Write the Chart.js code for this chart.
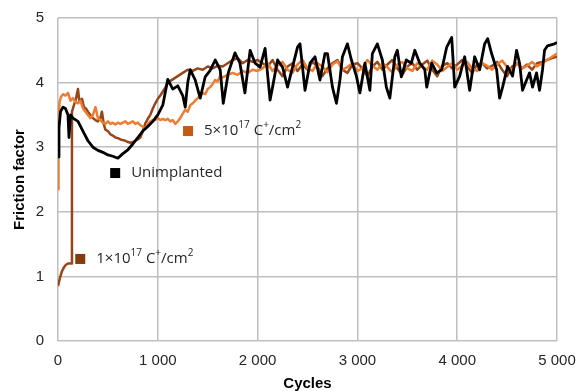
<!DOCTYPE html>
<html>
<head>
<meta charset="utf-8">
<script src="https://cdn.jsdelivr.net/npm/chart.js@4"></script>
<style>
  html, body { margin: 0; padding: 0; background: #fff; }
  #wrap { width: 579px; height: 391px; }
</style>
</head>
<body>
<div id="wrap"><canvas id="chart" width="579" height="391"></canvas></div>
<script>
// Unimplanted (black)
const blackCycles = [0, 10, 25, 50, 75, 100, 110, 125, 150, 200, 250, 300, 350, 400, 450, 500, 550, 600, 650, 700,
  750, 800, 850, 900, 950, 1000, 1050, 1100, 1150, 1200, 1250, 1275, 1300, 1325, 1375, 1425, 1475, 1525, 1575, 1625,
  1656, 1706, 1773, 1823, 1873, 1925, 1975, 2025, 2075, 2125, 2150, 2200, 2250, 2300, 2350, 2400, 2425, 2475, 2525, 2575,
  2625, 2675, 2700, 2750, 2790, 2825, 2850, 2900, 2940, 2990, 3025, 3075, 3125, 3150, 3200, 3250, 3290, 3325, 3375, 3400,
  3440, 3490, 3540, 3575, 3625, 3675, 3695, 3745, 3795, 3845, 3895, 3945, 3975, 4025, 4075, 4125, 4175, 4225, 4275, 4305,
  4345, 4395, 4425, 4455, 4505, 4555, 4595, 4625, 4655, 4695, 4725, 4755, 4795, 4825, 4855, 4875, 4905, 4975, 5000];
const blackValues = [2.85, 3.3, 3.55, 3.62, 3.6, 3.5, 3.15, 3.5, 3.45, 3.4, 3.25, 3.1, 3.0, 2.95, 2.92, 2.88, 2.86, 2.83, 2.9, 2.96,
  3.05, 3.15, 3.25, 3.32, 3.4, 3.5, 3.65, 4.05, 3.9, 3.95, 3.8, 3.62, 4.0, 4.2, 4.04, 3.76, 4.09, 4.19, 4.35, 4.2,
  3.68, 4.15, 4.46, 4.3, 3.84, 4.5, 4.3, 4.24, 4.53, 3.73, 3.93, 4.35, 4.24, 3.93, 4.24, 4.55, 4.6, 3.88, 4.3, 4.4,
  4.04, 4.45, 4.45, 3.93, 3.68, 4.04, 4.4, 4.6, 4.35, 4.1, 3.84, 4.3, 3.88, 4.45, 4.6, 4.35, 3.93, 3.76, 4.4, 4.5,
  4.09, 4.35, 4.3, 4.5, 4.3, 4.2, 3.93, 4.3, 4.15, 4.2, 4.55, 4.7, 3.93, 4.1, 4.4, 3.88, 4.4, 4.2, 4.6, 4.68,
  4.45, 4.2, 3.76, 3.93, 4.25, 4.1, 4.5, 4.3, 3.88, 4.04, 4.15, 3.93, 4.15, 3.88, 4.2, 4.5, 4.57, 4.6, 4.62];

// 5x10^17 C+/cm2 (orange)
const orangeCycles = [0, 5, 15, 30, 50, 75, 100, 125, 150, 175, 200, 225, 250, 275, 300, 325, 350, 375, 400, 425,
  450, 475, 500, 525, 550, 575, 600, 625, 650, 675, 700, 725, 750, 775, 800, 825, 850, 875, 900, 925,
  950, 975, 1000, 1025, 1050, 1075, 1100, 1125, 1150, 1175, 1200, 1225, 1250, 1275, 1300, 1325, 1350, 1375, 1400, 1425,
  1450, 1475, 1500, 1525, 1550, 1575, 1600, 1625, 1650, 1700, 1750, 1800, 1850, 1900, 1950, 2000,
  2050, 2100, 2150, 2200, 2250, 2300, 2350, 2400, 2450, 2500, 2550, 2600, 2650, 2700, 2750, 2800, 2850, 2900, 2950, 3000,
  3050, 3100, 3150, 3200, 3250, 3300, 3350, 3400, 3450, 3500, 3550, 3600, 3650, 3700, 3750, 3800, 3850, 3900, 3950, 4000,
  4050, 4100, 4150, 4200, 4250, 4300, 4350, 4400, 4450, 4500, 4550, 4600, 4650, 4700, 4750, 4800, 4850, 4900, 4950, 5000];
const orangeValues = [2.35, 3.2, 3.7, 3.78, 3.82, 3.8, 3.84, 3.72, 3.76, 3.7, 3.68, 3.72, 3.6, 3.55, 3.5, 3.45, 3.5, 3.62, 3.45, 3.42,
  3.38, 3.36, 3.4, 3.36, 3.38, 3.35, 3.38, 3.36, 3.38, 3.4, 3.36, 3.38, 3.4, 3.36, 3.38, 3.34, 3.32, 3.28, 3.35, 3.4,
  3.42, 3.42, 3.45, 3.42, 3.44, 3.42, 3.44, 3.4, 3.42, 3.36, 3.4, 3.45, 3.52, 3.58, 3.55, 3.65, 3.68, 3.72, 3.76, 3.8,
  3.84, 3.82, 3.9, 3.93, 3.98, 4.04, 4.02, 4.1, 4.08, 4.12, 4.15, 4.12, 4.18, 4.15, 4.2, 4.18,
  4.22, 4.3, 4.18, 4.26, 4.32, 4.2, 4.15, 4.28, 4.35, 4.22, 4.18, 4.3, 4.25, 4.16, 4.28, 4.33, 4.2, 4.24, 4.3, 4.18,
  4.22, 4.35, 4.26, 4.2, 4.3, 4.24, 4.16, 4.28, 4.32, 4.22, 4.18, 4.3, 4.25, 4.2, 4.34, 4.28, 4.18, 4.24, 4.3, 4.2,
  4.26, 4.32, 4.22, 4.18, 4.3, 4.26, 4.2, 4.28, 4.34, 4.24, 4.2, 4.3, 4.22, 4.26, 4.32, 4.25, 4.3, 4.35, 4.4, 4.45];

// 1x10^17 C+/cm2 (brown)
const brownCycles = [0, 20, 40, 60, 80, 100, 135, 140, 160, 180, 200, 215, 240, 260, 280, 300, 325, 350, 375, 400,
  425, 440, 460, 475, 500, 525, 550, 575, 600, 625, 650, 675, 700, 725, 750, 775, 800, 825, 850, 875,
  900, 925, 950, 975, 1000, 1025, 1050, 1075, 1100, 1150, 1200, 1250, 1300, 1350, 1400, 1450, 1500, 1550, 1600, 1650,
  1700, 1750, 1800, 1850, 1900, 1950, 2000,
  2050, 2100, 2150, 2200, 2250, 2300, 2350, 2400, 2450, 2500, 2550, 2600, 2650, 2700, 2750, 2800, 2850, 2900, 2950, 3000,
  3050, 3100, 3150, 3200, 3250, 3300, 3350, 3400, 3450, 3500, 3550, 3600, 3650, 3700, 3750, 3800, 3850, 3900, 3950, 4000,
  4050, 4100, 4150, 4200, 4250, 4300, 4350, 4400, 4450, 4500, 4550, 4600, 4650, 4700, 4750, 4800, 4850, 4900, 4950, 5000];
const brownValues = [0.85, 0.98, 1.08, 1.14, 1.18, 1.2, 1.2, 3.55, 3.65, 3.75, 3.9, 3.7, 3.75, 3.62, 3.6, 3.55, 3.5, 3.45, 3.42, 3.4,
  3.45, 3.55, 3.35, 3.27, 3.25, 3.2, 3.18, 3.15, 3.14, 3.12, 3.11, 3.1, 3.08, 3.07, 3.08, 3.1, 3.12, 3.15, 3.25, 3.37,
  3.44, 3.5, 3.6, 3.68, 3.75, 3.8, 3.86, 3.92, 4.0, 4.05, 4.1, 4.15, 4.2, 4.18, 4.22, 4.2, 4.25, 4.22, 4.26, 4.25,
  4.3, 4.35, 4.38, 4.3, 4.35, 4.32, 4.35,
  4.3, 4.25, 4.35, 4.2, 4.1, 4.25, 4.3, 4.18, 4.28, 4.2, 4.32, 4.25, 4.1, 4.22, 4.3, 4.35, 4.2, 4.15, 4.28, 4.3,
  4.22, 4.1, 4.25, 4.32, 4.2, 4.28, 4.35, 4.22, 4.12, 4.25, 4.3, 4.2, 4.28, 4.34, 4.2, 4.1, 4.26, 4.3, 4.22, 4.28,
  4.35, 4.25, 4.15, 4.28, 4.3, 4.22, 4.26, 4.32, 4.2, 4.1, 4.25, 4.3, 4.22, 4.28, 4.2, 4.3, 4.32, 4.35, 4.38, 4.4];

// axis ticks
const xTicks = [0, 1000, 2000, 3000, 4000, 5000];
const yTicks = [0, 1, 2, 3, 4, 5];

// in-plot labels (anchored in data units); ^ marks a superscript run
const labelTexts = ["5×10^{17} C^{+}/cm^{2}", "Unimplanted", "1×10^{17} C^{+}/cm^{2}"];
const labelCycles = [1303, 573, 223];
const labelValues = [3.25, 2.6, 1.27];
const labelColors = ["#C55A11", "#000000", "#843C0C"];

function toPoints(xs, ys) {
  return xs.map((x, i) => ({ x: x, y: ys[i] }));
}

function fmtThousands(v) {
  return String(v).replace(/\B(?=(\d{3})+(?!\d))/g, " ");
}

const seriesLabels = {
  id: "seriesLabels",
  afterDatasetsDraw(chart) {
    const ctx = chart.ctx;
    const xs = chart.scales.x, ys = chart.scales.y;
    ctx.save();
    ctx.textBaseline = "middle";
    labelTexts.forEach((txt, i) => {
      const cx = xs.getPixelForValue(labelCycles[i]);
      const cy = ys.getPixelForValue(labelValues[i]);
      ctx.fillStyle = labelColors[i];
      ctx.fillRect(cx - 5, cy - 5, 10, 10);
      let x = cx + 16;
      txt.split(/(\^\{[^}]*\})/).forEach(p => {
        if (!p) return;
        const sup = p[0] === "^";
        const t = sup ? p.slice(2, -1) : p;
        ctx.fillStyle = "#262626";
        if (sup) {
          ctx.font = "10px 'Open Sans'";
          ctx.fillText(t, x, cy - 6);
        } else {
          ctx.font = "15px 'Open Sans'";
          ctx.fillText(t, x, cy);
        }
        x += ctx.measureText(t).width;
      });
    });
    ctx.restore();
  }
};

const ctx = document.getElementById("chart").getContext("2d");
new Chart(ctx, {
  type: "line",
  data: {
    datasets: [
      { label: "Unimplanted", data: toPoints(blackCycles, blackValues), borderColor: "#000000", borderWidth: 2.8 },
      { label: "5×10^17", data: toPoints(orangeCycles, orangeValues), borderColor: "#ED7D31", borderWidth: 2.5 },
      { label: "1×10^17", data: toPoints(brownCycles, brownValues), borderColor: "#96471A", borderWidth: 2.5 },
    ],
  },
  options: {
    responsive: false,
    animation: false,
    parsing: false,
    elements: { point: { radius: 0 }, line: { tension: 0, borderJoinStyle: "round" } },
    layout: { padding: { top: 18, right: 22, left: 0, bottom: 0 } },
    plugins: { legend: { display: false }, tooltip: { enabled: false } },
    scales: {
      x: {
        type: "linear",
        min: 0,
        max: 5000,
        afterBuildTicks: (s) => { s.ticks = xTicks.map(v => ({ value: v })); },
        afterFit: (s) => { s.height = 50; s.paddingLeft = 0; s.paddingRight = 0; },
        grid: { color: "#BFBFBF", lineWidth: 1.5, drawTicks: false },
        border: { display: false },
        ticks: {
          color: "#262626",
          font: { family: "'Liberation Sans', Arial", size: 15 },
          padding: 11,
          maxRotation: 0,
          callback: (v) => fmtThousands(v),
        },
        title: {
          display: true,
          text: "Cycles",
          color: "#000",
          font: { family: "'Liberation Sans', Arial", size: 15, weight: "bold", lineHeight: 1.0 },
          padding: { top: 0, bottom: 0 },
        },
      },
      y: {
        min: 0,
        max: 5,
        afterBuildTicks: (s) => { s.ticks = yTicks.map(v => ({ value: v })); },
        afterFit: (s) => { s.width = 58; s.paddingTop = 0; s.paddingBottom = 0; },
        grid: { color: "#BFBFBF", lineWidth: 1.5, drawTicks: false },
        border: { display: false },
        ticks: {
          color: "#262626",
          font: { family: "'Liberation Sans', Arial", size: 15 },
          padding: 14,
        },
        title: {
          display: true,
          text: "Friction factor",
          color: "#000",
          font: { family: "'Liberation Sans', Arial", size: 15, weight: "bold", lineHeight: 1.1 },
          padding: { top: 12, bottom: 0 },
        },
      },
    },
  },
  plugins: [seriesLabels],
});
</script>
</body>
</html>
